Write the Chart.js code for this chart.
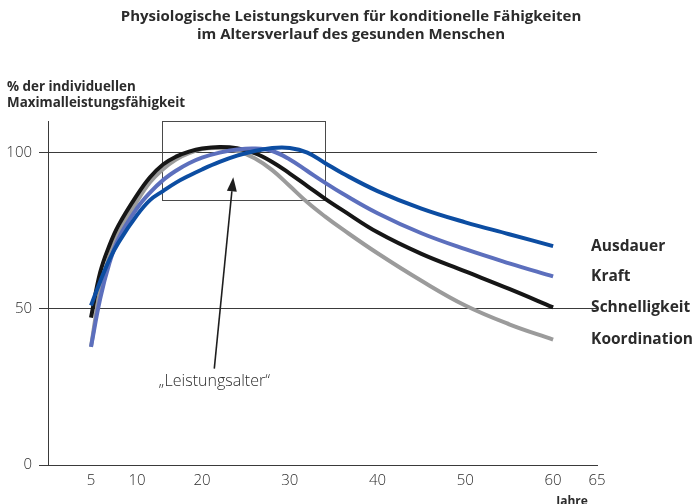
<!DOCTYPE html>
<html>
<head>
<meta charset="utf-8">
<script src="https://cdn.jsdelivr.net/npm/chart.js@4/dist/chart.umd.min.js"></script>
<style>
html,body{margin:0;padding:0;background:#fff;}
#c{display:block;}
</style>
</head>
<body>
<canvas id="c" width="693" height="504"></canvas>
<script>
// ---- data ----
const ages = [5, 6, 7, 8, 10, 12, 14, 16, 18, 20, 22, 24, 26, 28, 30, 32, 34, 36, 40, 45, 50, 55, 60];
const ausdauer =      [51.0, 58.7, 65.7, 71.2, 79.9, 84.7, 87.6, 90.3, 92.5, 94.5, 96.9, 98.9, 100.4, 101.4, 101.4, 99.9, 96.6, 93.3, 87.6, 82.0, 77.6, 73.8, 70.0];
const kraft =         [37.8, 53.2, 64.5, 72.5, 82.1, 87.1, 91.1, 94.1, 96.5, 98.3, 99.9, 100.9, 101.2, 100.4, 97.7, 94.0, 90.3, 86.8, 80.5, 74.1, 69.0, 64.5, 60.3];
const schnelligkeit = [47.1, 61.6, 70.2, 76.7, 86.3, 92.0, 96.1, 98.6, 100.2, 101.2, 101.7, 101.3, 99.7, 96.9, 93.2, 89.2, 85.2, 81.5, 74.4, 67.5, 61.9, 56.3, 50.4];
const koordination =  [37.8, 55.8, 66.7, 74.1, 84.3, 90.4, 94.6, 97.7, 99.7, 101.0, 101.3, 100.4, 98.1, 94.3, 89.2, 84.0, 79.5, 75.4, 67.7, 58.9, 51.0, 45.0, 40.1];
const seriesNames = ['Ausdauer', 'Kraft', 'Schnelligkeit', 'Koordination'];
const xTickValues = [5, 10, 20, 30, 40, 50, 60, 65];
const yTickValues = [0, 50, 100];
const titleLines = ['Physiologische Leistungskurven für konditionelle Fähigkeiten', 'im Altersverlauf des gesunden Menschen'];
const yTitleLines = ['% der individuellen', 'Maximalleistungsfähigkeit'];
const xTitle = 'Jahre';
const boxAges = [13.85, 34];
const boxValues = [84.6, 110];
const arrowFrom = [21.4, 30.8];
const arrowTo = [23.56, 92];
const annotationText = '\u201ELeistungsalter\u201C';
const annotationAt = [21.4, 26.6];

// ---- layout / style ----
const axisBreakAges = [0, 5, 10, 20, 65];
const axisBreakFractions = [0, 43 / 549, 89 / 549, 154 / 549, 1];
const colors = ['#0c4da2', '#5c6fbd', '#161616', '#9b9b9b'];
const FONT = "'Open Sans', 'DejaVu Sans', sans-serif";
const TEXT = '#2b2b2b';
const AXIS = '#3a3a3a';

function ageToDecimal(v) {
  const a = axisBreakAges, f = axisBreakFractions;
  let i = 1;
  while (i < a.length - 1 && v > a[i]) i++;
  return f[i - 1] + (v - a[i - 1]) / (a[i] - a[i - 1]) * (f[i] - f[i - 1]);
}
function decimalToAge(d) {
  const a = axisBreakAges, f = axisBreakFractions;
  let i = 1;
  while (i < f.length - 1 && d > f[i]) i++;
  return a[i - 1] + (d - f[i - 1]) / (f[i] - f[i - 1]) * (a[i] - a[i - 1]);
}

class PiecewiseScale extends Chart.LinearScale {
  getPixelForValue(value) { return this.getPixelForDecimal(ageToDecimal(value)); }
  getValueForPixel(pixel) { return decimalToAge(this.getDecimalForPixel(pixel)); }
}
PiecewiseScale.id = 'piecewise';
PiecewiseScale.defaults = Chart.LinearScale.defaults;
Chart.register(PiecewiseScale);

const seriesValues = [ausdauer, kraft, schnelligkeit, koordination];
const datasets = seriesNames.map((name, k) => ({
  label: name,
  data: ages.map((a, i) => ({ x: a, y: seriesValues[k][i] })),
  borderColor: colors[k],
  borderWidth: 4,
  pointRadius: 0,
  fill: false,
  tension: 0.4,
  borderCapStyle: 'butt'
}));

const overlay = {
  id: 'overlay',
  beforeDatasetsDraw(chart) {
    const { ctx, scales: { x, y } } = chart;
    ctx.save();
    ctx.strokeStyle = '#4a4a4a';
    ctx.lineWidth = 1;
    const x0 = Math.round(x.getPixelForValue(boxAges[0])) + 0.5;
    const x1 = Math.round(x.getPixelForValue(boxAges[1])) + 0.5;
    const y0 = Math.round(y.getPixelForValue(boxValues[1])) + 0.5;
    const y1 = Math.round(y.getPixelForValue(boxValues[0])) + 0.5;
    ctx.strokeRect(x0, y0, x1 - x0, y1 - y0);
    ctx.restore();
  },
  afterDatasetsDraw(chart) {
    const { ctx, scales: { x, y } } = chart;
    ctx.save();
    // arrow
    const tx = x.getPixelForValue(arrowFrom[0]), ty = y.getPixelForValue(arrowFrom[1]);
    const hx = x.getPixelForValue(arrowTo[0]), hy = y.getPixelForValue(arrowTo[1]);
    const ang = Math.atan2(hy - ty, hx - tx);
    const headLen = 14, headW = 5;
    const bx = hx - headLen * Math.cos(ang), by = hy - headLen * Math.sin(ang);
    ctx.strokeStyle = '#1e1e1e';
    ctx.fillStyle = '#1e1e1e';
    ctx.lineWidth = 1.6;
    ctx.beginPath();
    ctx.moveTo(tx, ty);
    ctx.lineTo(bx, by);
    ctx.stroke();
    ctx.beginPath();
    ctx.moveTo(hx, hy);
    ctx.lineTo(bx + headW * Math.sin(ang), by - headW * Math.cos(ang));
    ctx.lineTo(bx - headW * Math.sin(ang), by + headW * Math.cos(ang));
    ctx.closePath();
    ctx.fill();
    // annotation text
    ctx.fillStyle = TEXT;
    ctx.font = `300 16px ${FONT}`;
    ctx.textAlign = 'center';
    ctx.textBaseline = 'middle';
    ctx.fillText(annotationText, x.getPixelForValue(annotationAt[0]), y.getPixelForValue(annotationAt[1]));
    // end labels
    ctx.font = `bold 15.5px ${FONT}`;
    ctx.textAlign = 'left';
    chart.data.datasets.forEach((ds, k) => {
      const meta = chart.getDatasetMeta(k);
      const last = meta.data[meta.data.length - 1];
      ctx.fillText(ds.label, last.x + 38, last.y);
    });
    ctx.restore();
  },
  afterDraw(chart) {
    const { ctx } = chart;
    ctx.save();
    ctx.fillStyle = TEXT;
    ctx.textBaseline = 'middle';
    ctx.font = `bold 15px ${FONT}`;
    ctx.textAlign = 'center';
    titleLines.forEach((t, i) => ctx.fillText(t, 351, 17 + i * 18));
    ctx.font = `bold 13.4px ${FONT}`;
    ctx.textAlign = 'left';
    yTitleLines.forEach((t, i) => ctx.fillText(t, 7, 87 + i * 16));
    ctx.font = `bold 12px ${FONT}`;
    ctx.textAlign = 'center';
    ctx.fillText(xTitle, 572, 502);
    ctx.restore();
  }
};

new Chart(document.getElementById('c'), {
  type: 'line',
  data: { datasets },
  options: {
    responsive: false,
    animation: false,
    devicePixelRatio: 1,
    layout: { padding: { top: 121, right: 96, bottom: 7, left: 0 } },
    plugins: { legend: { display: false }, tooltip: { enabled: false }, title: { display: false } },
    scales: {
      x: {
        type: 'piecewise',
        min: 0, max: 65,
        afterBuildTicks: s => { s.ticks = xTickValues.map(v => ({ value: v })); },
        grid: { display: false, drawTicks: false },
        border: { display: true, color: AXIS, width: 1 },
        ticks: { padding: 7, color: TEXT, font: { family: FONT, size: 15, weight: '300' }, maxRotation: 0, autoSkip: false }
      },
      y: {
        type: 'linear',
        min: 0, max: 110,
        afterBuildTicks: s => { s.ticks = yTickValues.map(v => ({ value: v })); },
        afterFit: s => { s.width = 48; },
        grid: { color: AXIS, lineWidth: 1, tickLength: 9, drawTicks: true },
        border: { display: true, color: AXIS, width: 1 },
        ticks: { padding: 7, color: TEXT, font: { family: FONT, size: 15, weight: '300' } }
      }
    }
  },
  plugins: [overlay]
});
</script>
</body>
</html>
